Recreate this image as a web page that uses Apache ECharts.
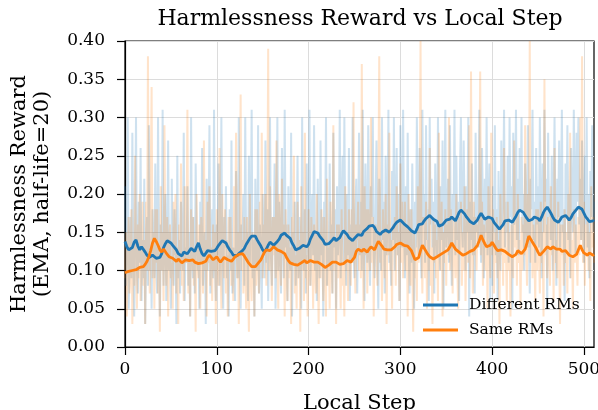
<!DOCTYPE html>
<html>
<head>
<meta charset="utf-8">
<script src="https://cdn.jsdelivr.net/npm/echarts@6/dist/echarts.min.js"></script>
<style>
  html, body { margin: 0; padding: 0; background: #fff; }
  #chart { width: 598px; height: 410px; }
</style>
</head>
<body>
<div id="chart"></div>
<script>
// Per-step harmlessness reward (raw), one value per local step 0..511
const rawDifferent = [
  0.21,0.08,0.13,0.30,0.05,0.11,0.17,0.09,0.28,0.12,0.04,0.15,0.30,0.10,0.07,0.19,
  0.11,0.26,0.06,0.14,0.09,0.22,0.03,0.12,0.17,0.08,0.29,0.10,0.13,0.05,0.18,0.12,
  0.09,0.24,0.11,0.07,0.30,0.13,0.04,0.16,0.10,0.31,0.08,0.14,0.20,0.06,0.12,0.27,
  0.10,0.15,0.05,0.22,0.11,0.08,0.18,0.13,0.03,0.25,0.09,0.14,0.07,0.19,0.12,0.10,
  0.28,0.06,0.13,0.11,0.21,0.08,0.15,0.04,0.30,0.12,0.09,0.17,0.07,0.24,0.14,0.10,
  0.13,0.05,0.19,0.11,0.26,0.08,0.12,0.15,0.03,0.22,0.10,0.14,0.29,0.07,0.12,0.18,
  0.09,0.31,0.11,0.06,0.16,0.12,0.24,0.08,0.14,0.30,0.10,0.05,0.17,0.13,0.21,0.09,
  0.12,0.04,0.18,0.10,0.27,0.07,0.13,0.11,0.06,0.23,0.14,0.09,0.30,0.11,0.05,0.16,
  0.13,0.20,0.08,0.30,0.12,0.15,0.06,0.25,0.11,0.17,0.31,0.09,0.14,0.04,0.22,0.13,
  0.10,0.29,0.07,0.16,0.12,0.05,0.20,0.14,0.09,0.27,0.11,0.18,0.06,0.15,0.30,0.12,
  0.08,0.17,0.13,0.24,0.05,0.14,0.30,0.10,0.19,0.12,0.07,0.26,0.15,0.09,0.31,0.13,
  0.16,0.06,0.21,0.12,0.10,0.28,0.04,0.15,0.11,0.19,0.08,0.13,0.25,0.09,0.17,0.12,
  0.05,0.30,0.13,0.10,0.18,0.07,0.24,0.14,0.11,0.31,0.08,0.16,0.20,0.12,0.29,0.10,
  0.15,0.06,0.22,0.13,0.09,0.27,0.12,0.17,0.04,0.19,0.14,0.30,0.08,0.13,0.11,0.24,
  0.10,0.16,0.07,0.28,0.13,0.18,0.05,0.21,0.12,0.15,0.31,0.09,0.17,0.25,0.11,0.30,
  0.14,0.08,0.20,0.12,0.26,0.06,0.16,0.11,0.30,0.13,0.09,0.18,0.22,0.07,0.15,0.28,
  0.12,0.19,0.10,0.31,0.14,0.06,0.24,0.16,0.11,0.29,0.13,0.08,0.21,0.17,0.30,0.12,
  0.09,0.18,0.27,0.13,0.05,0.22,0.15,0.10,0.30,0.14,0.19,0.07,0.25,0.12,0.16,0.31,
  0.11,0.15,0.08,0.23,0.14,0.30,0.10,0.17,0.26,0.12,0.20,0.06,0.29,0.15,0.13,0.31,
  0.16,0.09,0.21,0.12,0.28,0.14,0.07,0.18,0.11,0.24,0.15,0.05,0.19,0.13,0.30,0.17,
  0.12,0.26,0.15,0.09,0.31,0.16,0.20,0.11,0.29,0.14,0.18,0.06,0.30,0.16,0.22,0.13,
  0.19,0.07,0.24,0.15,0.12,0.30,0.17,0.10,0.21,0.14,0.27,0.05,0.18,0.31,0.13,0.16,
  0.22,0.11,0.29,0.15,0.08,0.20,0.17,0.31,0.12,0.25,0.14,0.19,0.06,0.23,0.30,0.16,
  0.13,0.27,0.18,0.10,0.21,0.15,0.30,0.04,0.19,0.14,0.24,0.12,0.17,0.07,0.28,0.15,
  0.20,0.13,0.31,0.16,0.11,0.26,0.18,0.09,0.22,0.15,0.30,0.12,0.19,0.24,0.06,0.17,
  0.08,0.21,0.15,0.29,0.12,0.18,0.06,0.23,0.14,0.10,0.27,0.16,0.20,0.31,0.13,0.19,
  0.15,0.25,0.11,0.30,0.17,0.21,0.05,0.28,0.16,0.19,0.31,0.14,0.22,0.12,0.26,0.18,
  0.30,0.15,0.20,0.10,0.24,0.17,0.13,0.29,0.16,0.07,0.22,0.18,0.31,0.14,0.19,0.11,
  0.26,0.16,0.21,0.13,0.30,0.18,0.09,0.24,0.15,0.31,0.19,0.22,0.05,0.28,0.17,0.20,
  0.14,0.25,0.10,0.19,0.30,0.16,0.08,0.22,0.17,0.27,0.13,0.20,0.31,0.15,0.18,0.06,
  0.24,0.17,0.29,0.14,0.20,0.09,0.26,0.18,0.15,0.31,0.21,0.12,0.28,0.19,0.30,0.16,
  0.22,0.14,0.27,0.18,0.11,0.25,0.16,0.30,0.13,0.20,0.09,0.23,0.17,0.29,0.15,0.19
];
const rawSame = [
  0.09,0.15,0.04,0.12,0.17,0.07,0.10,0.18,0.03,0.13,0.08,0.25,0.11,0.05,0.16,0.09,
  0.20,0.06,0.12,0.19,0.08,0.14,0.03,0.19,0.10,0.38,0.12,0.07,0.22,0.34,0.09,0.15,
  0.05,0.18,0.11,0.18,0.07,0.13,0.02,0.21,0.10,0.15,0.06,0.29,0.12,0.08,0.17,0.04,
  0.14,0.16,0.09,0.11,0.05,0.19,0.12,0.20,0.07,0.13,0.03,0.16,0.10,0.24,0.08,0.12,
  0.06,0.21,0.11,0.14,0.31,0.07,0.12,0.04,0.18,0.10,0.17,0.08,0.13,0.02,0.20,0.11,
  0.09,0.16,0.05,0.17,0.12,0.07,0.27,0.10,0.14,0.04,0.19,0.11,0.21,0.08,0.13,0.06,
  0.16,0.10,0.15,0.03,0.18,0.12,0.08,0.26,0.11,0.05,0.20,0.13,0.09,0.18,0.07,0.14,
  0.04,0.17,0.11,0.17,0.08,0.13,0.06,0.21,0.12,0.28,0.09,0.15,0.03,0.19,0.33,0.10,
  0.14,0.07,0.17,0.11,0.05,0.17,0.09,0.02,0.20,0.10,0.06,0.15,0.12,0.04,0.18,0.08,
  0.18,0.11,0.07,0.19,0.13,0.28,0.09,0.16,0.12,0.20,0.08,0.15,0.39,0.10,0.21,0.13,
  0.06,0.17,0.12,0.17,0.09,0.27,0.11,0.05,0.20,0.14,0.08,0.22,0.12,0.16,0.04,0.18,
  0.10,0.06,0.16,0.09,0.13,0.03,0.17,0.11,0.25,0.07,0.12,0.05,0.19,0.09,0.14,0.02,
  0.21,0.10,0.15,0.06,0.28,0.09,0.12,0.04,0.18,0.11,0.08,0.17,0.13,0.05,0.16,0.10,
  0.07,0.20,0.11,0.03,0.15,0.09,0.18,0.12,0.06,0.17,0.10,0.04,0.22,0.08,0.13,0.05,
  0.19,0.11,0.07,0.29,0.10,0.14,0.03,0.16,0.09,0.16,0.12,0.05,0.18,0.08,0.11,0.04,
  0.21,0.10,0.15,0.06,0.18,0.12,0.08,0.18,0.11,0.32,0.13,0.07,0.16,0.14,0.19,0.10,
  0.16,0.09,0.37,0.13,0.05,0.21,0.12,0.18,0.07,0.18,0.14,0.10,0.30,0.11,0.17,0.04,
  0.15,0.16,0.12,0.08,0.19,0.38,0.11,0.14,0.06,0.18,0.13,0.09,0.20,0.03,0.16,0.12,
  0.28,0.10,0.14,0.05,0.16,0.13,0.17,0.08,0.21,0.12,0.15,0.06,0.24,0.11,0.19,0.09,
  0.14,0.19,0.10,0.16,0.04,0.20,0.12,0.08,0.18,0.11,0.02,0.15,0.09,0.13,0.06,0.21,
  0.11,0.16,0.40,0.13,0.07,0.17,0.12,0.09,0.19,0.05,0.14,0.10,0.26,0.08,0.13,0.03,
  0.17,0.11,0.16,0.09,0.14,0.06,0.28,0.12,0.10,0.19,0.04,0.15,0.11,0.18,0.08,0.16,
  0.12,0.30,0.10,0.18,0.14,0.07,0.17,0.13,0.09,0.20,0.11,0.05,0.17,0.12,0.19,0.08,
  0.15,0.10,0.21,0.06,0.13,0.18,0.11,0.29,0.09,0.36,0.14,0.07,0.19,0.12,0.17,0.10,
  0.16,0.13,0.18,0.36,0.12,0.19,0.08,0.16,0.14,0.10,0.17,0.05,0.21,0.13,0.09,0.28,
  0.12,0.18,0.07,0.15,0.11,0.17,0.09,0.14,0.03,0.20,0.12,0.16,0.08,0.26,0.11,0.13,
  0.06,0.19,0.10,0.15,0.04,0.16,0.12,0.09,0.27,0.13,0.17,0.08,0.20,0.11,0.14,0.05,
  0.17,0.10,0.16,0.12,0.29,0.14,0.08,0.20,0.13,0.40,0.11,0.17,0.09,0.16,0.12,0.06,
  0.18,0.10,0.18,0.13,0.07,0.19,0.11,0.15,0.04,0.35,0.12,0.16,0.09,0.17,0.13,0.08,
  0.21,0.12,0.17,0.06,0.26,0.11,0.14,0.09,0.19,0.13,0.03,0.16,0.12,0.16,0.08,0.18,
  0.11,0.15,0.07,0.20,0.12,0.28,0.09,0.14,0.05,0.18,0.11,0.16,0.13,0.08,0.17,0.12,
  0.30,0.14,0.38,0.11,0.19,0.08,0.16,0.12,0.17,0.10,0.15,0.06,0.21,0.13,0.17,0.11
];

// Smoothed curves (EMA, half-life 20), sampled every other local step
const emaSteps = [
  0,2,4,6,8,10,12,14,16,18,20,22,24,26,28,30,
  32,34,36,38,40,42,44,46,48,50,52,54,56,58,60,62,
  64,66,68,70,72,74,76,78,80,82,84,86,88,90,92,94,
  96,98,100,102,104,106,108,110,112,114,116,118,120,122,124,126,
  128,130,132,134,136,138,140,142,144,146,148,150,152,154,156,158,
  160,162,164,166,168,170,172,174,176,178,180,182,184,186,188,190,
  192,194,196,198,200,202,204,206,208,210,212,214,216,218,220,222,
  224,226,228,230,232,234,236,238,240,242,244,246,248,250,252,254,
  256,258,260,262,264,266,268,270,272,274,276,278,280,282,284,286,
  288,290,292,294,296,298,300,302,304,306,308,310,312,314,316,318,
  320,322,324,326,328,330,332,334,336,338,340,342,344,346,348,350,
  352,354,356,358,360,362,364,366,368,370,372,374,376,378,380,382,
  384,386,388,390,392,394,396,398,400,402,404,406,408,410,412,414,
  416,418,420,422,424,426,428,430,432,434,436,438,440,442,444,446,
  448,450,452,454,456,458,460,462,464,466,468,470,472,474,476,478,
  480,482,484,486,488,490,492,494,496,498,500,502,504,506,508,510,
  511
];
const emaDifferent = [
  0.138,0.131,0.127,0.125,0.130,0.137,0.140,0.132,0.127,0.131,0.132,0.124,0.120,0.117,0.116,0.120,
  0.121,0.116,0.118,0.117,0.122,0.130,0.135,0.139,0.140,0.136,0.133,0.131,0.127,0.122,0.121,0.119,
  0.124,0.126,0.122,0.124,0.129,0.131,0.125,0.131,0.136,0.128,0.122,0.119,0.121,0.126,0.128,0.125,
  0.127,0.126,0.129,0.133,0.136,0.139,0.141,0.136,0.131,0.127,0.124,0.120,0.121,0.119,0.122,0.124,
  0.126,0.129,0.134,0.138,0.142,0.145,0.147,0.145,0.140,0.136,0.132,0.127,0.124,0.128,0.133,0.137,
  0.136,0.133,0.134,0.138,0.141,0.146,0.148,0.149,0.146,0.145,0.142,0.136,0.132,0.127,0.125,0.129,
  0.131,0.133,0.135,0.131,0.134,0.141,0.146,0.151,0.153,0.149,0.145,0.143,0.139,0.134,0.132,0.135,
  0.137,0.140,0.143,0.139,0.137,0.143,0.148,0.152,0.153,0.147,0.143,0.141,0.139,0.142,0.144,0.147,
  0.148,0.146,0.151,0.153,0.155,0.158,0.160,0.159,0.156,0.151,0.149,0.147,0.150,0.149,0.153,0.154,
  0.150,0.152,0.156,0.160,0.163,0.165,0.166,0.164,0.161,0.159,0.157,0.155,0.152,0.150,0.149,0.154,
  0.160,0.159,0.161,0.165,0.168,0.170,0.172,0.170,0.167,0.166,0.164,0.158,0.157,0.160,0.163,0.166,
  0.168,0.167,0.170,0.168,0.165,0.170,0.176,0.179,0.178,0.174,0.170,0.167,0.164,0.163,0.161,0.163,
  0.166,0.171,0.175,0.171,0.167,0.169,0.170,0.171,0.168,0.163,0.160,0.157,0.154,0.156,0.160,0.165,
  0.167,0.166,0.164,0.163,0.165,0.171,0.176,0.179,0.180,0.176,0.172,0.168,0.165,0.165,0.167,0.170,
  0.172,0.168,0.165,0.170,0.176,0.180,0.183,0.179,0.175,0.170,0.166,0.165,0.163,0.166,0.170,0.171,
  0.172,0.169,0.166,0.169,0.174,0.176,0.180,0.183,0.185,0.180,0.175,0.170,0.167,0.164,0.163,0.165,
  0.164
];
const emaSame = [
  0.097,0.096,0.099,0.101,0.100,0.102,0.101,0.103,0.104,0.103,0.105,0.108,0.112,0.118,0.126,0.136,
  0.142,0.138,0.133,0.127,0.124,0.128,0.126,0.121,0.118,0.119,0.116,0.114,0.112,0.115,0.113,0.110,
  0.112,0.114,0.116,0.113,0.112,0.114,0.111,0.110,0.109,0.107,0.110,0.108,0.112,0.117,0.120,0.117,
  0.114,0.116,0.118,0.114,0.111,0.114,0.117,0.116,0.114,0.115,0.112,0.115,0.118,0.120,0.121,0.119,
  0.122,0.119,0.115,0.111,0.108,0.105,0.103,0.105,0.108,0.110,0.114,0.119,0.124,0.127,0.129,0.126,
  0.127,0.131,0.130,0.127,0.128,0.125,0.127,0.122,0.117,0.113,0.110,0.111,0.108,0.106,0.107,0.109,
  0.110,0.112,0.113,0.110,0.111,0.113,0.114,0.111,0.112,0.111,0.109,0.108,0.107,0.104,0.105,0.107,
  0.109,0.111,0.112,0.111,0.110,0.108,0.107,0.109,0.111,0.113,0.114,0.111,0.112,0.117,0.125,0.128,
  0.127,0.125,0.128,0.126,0.124,0.128,0.131,0.129,0.127,0.133,0.138,0.135,0.132,0.128,0.126,0.127,
  0.125,0.127,0.129,0.131,0.134,0.133,0.136,0.134,0.133,0.134,0.132,0.129,0.126,0.120,0.114,0.115,
  0.117,0.126,0.133,0.129,0.125,0.121,0.118,0.116,0.115,0.117,0.118,0.120,0.121,0.123,0.124,0.126,
  0.127,0.131,0.136,0.132,0.128,0.126,0.124,0.122,0.120,0.121,0.122,0.124,0.125,0.124,0.127,0.130,
  0.133,0.139,0.146,0.140,0.135,0.131,0.129,0.133,0.137,0.133,0.129,0.126,0.125,0.127,0.128,0.125,
  0.123,0.121,0.119,0.118,0.116,0.121,0.126,0.124,0.122,0.125,0.128,0.136,0.145,0.141,0.137,0.133,
  0.129,0.124,0.120,0.122,0.125,0.128,0.131,0.129,0.128,0.131,0.130,0.128,0.127,0.128,0.125,0.127,
  0.126,0.123,0.120,0.119,0.118,0.119,0.121,0.127,0.133,0.127,0.123,0.121,0.120,0.123,0.122,0.120,
  0.121
];

const xTicks = [0, 100, 200, 300, 400, 500];
const seriesNames = ['Different RMs', 'Same RMs'];
const colors = ['#1f77b4', '#ff7f0e'];

const FONT = 'DejaVu Serif';
const chart = echarts.init(document.getElementById('chart'), null, { renderer: 'canvas' });

const rawLine = (vals, color) => ({
  type: 'line',
  data: vals.map((v, i) => [i, v]),
  showSymbol: false,
  silent: true,
  z: 1,
  lineStyle: { color: color, width: 2, opacity: 0.22 },
  emphasis: { disabled: true }
});
const emaLine = (name, vals, color, z) => ({
  name: name,
  type: 'line',
  data: vals.map((v, i) => [emaSteps[i], v]),
  showSymbol: false,
  z: z,
  itemStyle: { color: color },
  lineStyle: { color: color, width: 2.8 },
  emphasis: { disabled: true }
});

chart.setOption({
  animation: false,
  backgroundColor: '#fff',
  title: {
    text: 'Harmlessness Reward vs Local Step',
    left: 355, top: 3, textAlign: 'center',
    textStyle: { fontFamily: FONT, fontSize: 22, fontWeight: 'normal', color: '#000' }
  },
  grid: {
    left: 125, right: 4, top: 41, bottom: 63,
    outerBoundsMode: 'none', containLabel: false,
    show: true, borderColor: '#000', borderWidth: 1.2, backgroundColor: 'transparent'
  },
  legend: {
    data: seriesNames,
    orient: 'vertical',
    left: 423, top: 297, padding: 0,
    itemWidth: 35, itemHeight: 3, itemGap: 9,
    icon: 'rect',
    textStyle: { fontFamily: FONT, fontSize: 15.5, color: '#000', padding: [0, 0, 0, 6] }
  },
  xAxis: {
    type: 'value', min: 0, max: 511, interval: 100,
    name: 'Local Step', nameLocation: 'middle', nameGap: 46,
    nameTextStyle: { fontFamily: FONT, fontSize: 21, color: '#000' },
    axisLine: { show: true, onZero: false, lineStyle: { color: '#000', width: 1.2 } },
    axisTick: { show: true, length: 8, customValues: xTicks, lineStyle: { color: '#000', width: 1.2 } },
    axisLabel: { customValues: xTicks, margin: 14, fontFamily: FONT, fontSize: 17, color: '#000' },
    splitLine: { show: true, lineStyle: { color: '#dcdcdc', width: 1 } }
  },
  yAxis: {
    type: 'value', min: 0, max: 0.4, interval: 0.05,
    name: 'Harmlessness Reward\n(EMA, half-life=20)', nameLocation: 'middle', nameGap: 71,
    nameRotate: 90,
    nameTextStyle: { fontFamily: FONT, fontSize: 21, color: '#000', lineHeight: 23 },
    axisLine: { show: true, onZero: false, lineStyle: { color: '#000', width: 1.2 } },
    axisTick: { show: true, length: 8, lineStyle: { color: '#000', width: 1.2 } },
    axisLabel: { margin: 20, fontFamily: FONT, fontSize: 17, color: '#000', formatter: v => v.toFixed(2) },
    splitLine: { show: true, lineStyle: { color: '#dcdcdc', width: 1 } }
  },
  series: [
    rawLine(rawDifferent, colors[0]),
    rawLine(rawSame, colors[1]),
    emaLine(seriesNames[0], emaDifferent, colors[0], 3),
    emaLine(seriesNames[1], emaSame, colors[1], 4)
  ]
});
</script>
</body>
</html>
